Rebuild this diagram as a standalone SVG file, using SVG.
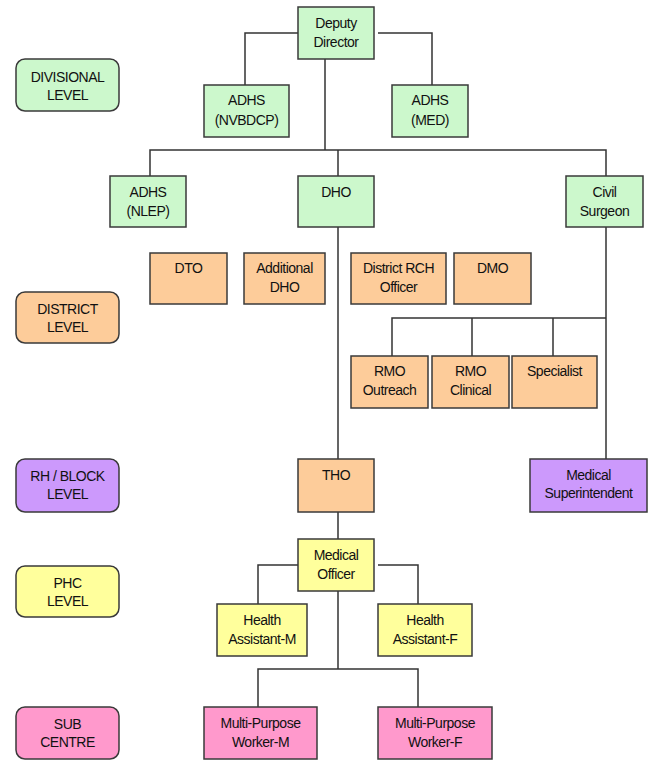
<svg xmlns="http://www.w3.org/2000/svg" width="661" height="771" viewBox="0 0 661 771">
<style>
.n{stroke:#3a3a3a;stroke-width:1.5}
.g{fill:#ccf8cc}.o{fill:#fdcc9a}.p{fill:#cc99fc}.y{fill:#ffff9c}.k{fill:#ff99cc}
text{font-family:"Liberation Sans",Arial,sans-serif;font-size:14px;fill:#111;text-anchor:middle;letter-spacing:-0.5px}
#connectors path{fill:none;stroke:#333;stroke-width:1.5}
</style>
<rect width="661" height="771" fill="#fff"/>
<g id="connectors">
<path d="M298,33H245V85M378,33H432V85"/>
<path d="M325,59V150M150,176V150H606V176M338,150V176"/>
<path d="M338,227V459M338,512V539"/>
<path d="M606,227V459M392,356V318H606M472,318V356M553,318V356"/>
<path d="M298,565H258V604M378,565H418V604"/>
<path d="M338,591V669M258,707V669H418V707"/>
</g>
<g id="lvl-divisional"><rect class="n g" x="16" y="59" width="103" height="52" rx="9"/><text x="67.5" y="82">DIVISIONAL</text><text x="67.5" y="100">LEVEL</text></g>
<g id="lvl-district"><rect class="n o" x="16" y="292" width="103" height="51" rx="9"/><text x="67.5" y="314">DISTRICT</text><text x="67.5" y="332">LEVEL</text></g>
<g id="lvl-block"><rect class="n p" x="16" y="459" width="103" height="53" rx="9"/><text x="67.5" y="481">RH / BLOCK</text><text x="67.5" y="499">LEVEL</text></g>
<g id="lvl-phc"><rect class="n y" x="16" y="566" width="103" height="51" rx="9"/><text x="67.5" y="588">PHC</text><text x="67.5" y="606">LEVEL</text></g>
<g id="lvl-sub"><rect class="n k" x="16" y="707" width="103" height="52" rx="9"/><text x="67.5" y="729">SUB</text><text x="67.5" y="747">CENTRE</text></g>

<g id="deputy-director"><rect class="n g" x="298" y="7" width="76" height="52"/><text x="336" y="28">Deputy</text><text x="336" y="47">Director</text></g>
<g id="adhs-nvbdcp"><rect class="n g" x="204" y="85" width="85" height="52"/><text x="246.5" y="105">ADHS</text><text x="246.5" y="125">(NVBDCP)</text></g>
<g id="adhs-med"><rect class="n g" x="392" y="85" width="76" height="52"/><text x="430" y="105">ADHS</text><text x="430" y="125">(MED)</text></g>
<g id="adhs-nlep"><rect class="n g" x="110" y="176" width="76" height="51"/><text x="148" y="197">ADHS</text><text x="148" y="216">(NLEP)</text></g>
<g id="dho"><rect class="n g" x="298" y="176" width="76" height="51"/><text x="336" y="197">DHO</text></g>
<g id="civil-surgeon"><rect class="n g" x="566" y="176" width="77" height="51"/><text x="604.5" y="197">Civil</text><text x="604.5" y="216">Surgeon</text></g>

<g id="dto"><rect class="n o" x="150" y="253" width="77" height="51"/><text x="188.5" y="273">DTO</text></g>
<g id="additional-dho"><rect class="n o" x="244" y="253" width="81" height="51"/><text x="284.5" y="273">Additional</text><text x="284.5" y="292">DHO</text></g>
<g id="district-rch"><rect class="n o" x="351" y="253" width="95" height="51"/><text x="398.5" y="273">District RCH</text><text x="398.5" y="292">Officer</text></g>
<g id="dmo"><rect class="n o" x="454" y="253" width="77" height="51"/><text x="492.5" y="273">DMO</text></g>

<g id="rmo-outreach"><rect class="n o" x="351" y="356" width="77" height="52"/><text x="389.5" y="376">RMO</text><text x="389.5" y="395">Outreach</text></g>
<g id="rmo-clinical"><rect class="n o" x="432" y="356" width="77" height="52"/><text x="470.5" y="376">RMO</text><text x="470.5" y="395">Clinical</text></g>
<g id="specialist"><rect class="n o" x="512" y="356" width="85" height="52"/><text x="554.5" y="376">Specialist</text></g>

<g id="tho"><rect class="n o" x="298" y="459" width="76" height="53"/><text x="336" y="480">THO</text></g>
<g id="medical-superintendent"><rect class="n p" x="530" y="459" width="117" height="53"/><text x="588.5" y="480">Medical</text><text x="588.5" y="498">Superintendent</text></g>

<g id="medical-officer"><rect class="n y" x="298" y="539" width="76" height="52"/><text x="336" y="560">Medical</text><text x="336" y="579">Officer</text></g>
<g id="health-assistant-m"><rect class="n y" x="217" y="604" width="90" height="52"/><text x="262" y="625">Health</text><text x="262" y="644">Assistant-M</text></g>
<g id="health-assistant-f"><rect class="n y" x="378" y="604" width="94" height="52"/><text x="425" y="625">Health</text><text x="425" y="644">Assistant-F</text></g>

<g id="mpw-m"><rect class="n k" x="204" y="707" width="113" height="52"/><text x="260.5" y="728">Multi-Purpose</text><text x="260.5" y="747">Worker-M</text></g>
<g id="mpw-f"><rect class="n k" x="378" y="707" width="114" height="52"/><text x="435" y="728">Multi-Purpose</text><text x="435" y="747">Worker-F</text></g>
</svg>
